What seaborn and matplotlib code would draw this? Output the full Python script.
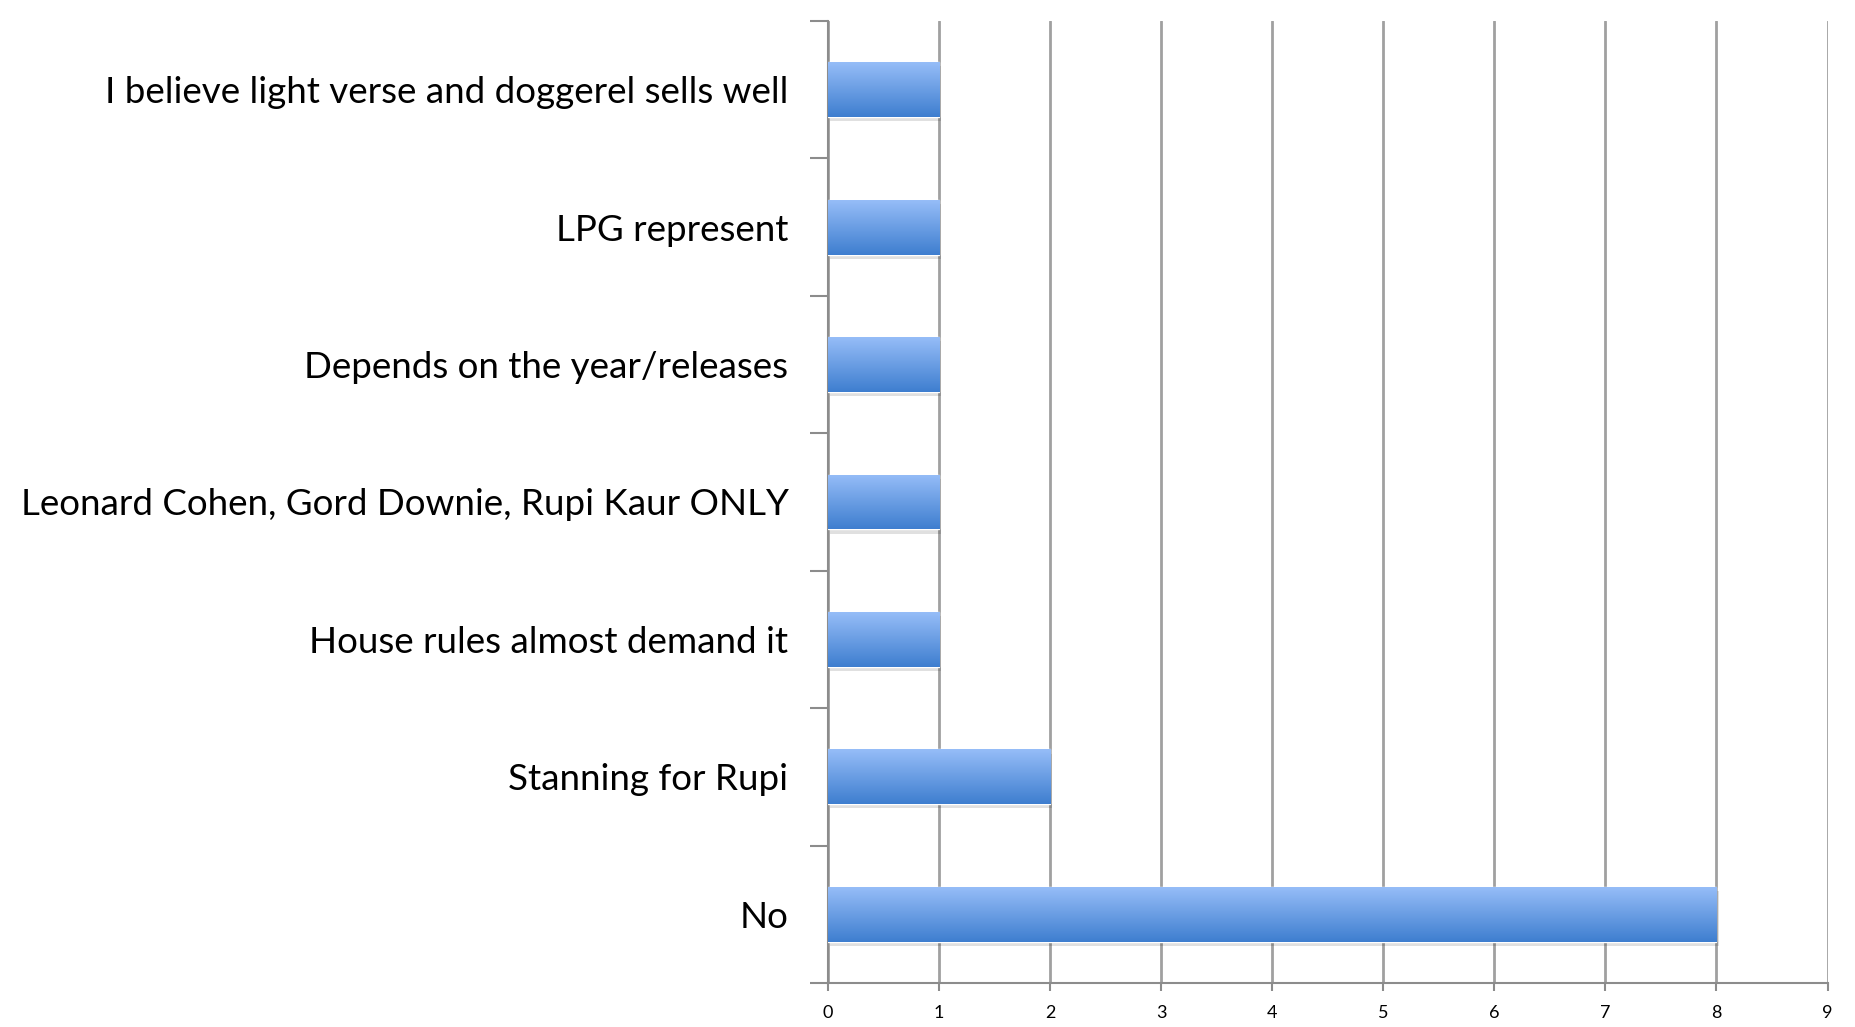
import numpy as np
import matplotlib
matplotlib.use("Agg")
import matplotlib.pyplot as plt
import seaborn as sns
import pandas as pd
from matplotlib.ticker import FixedLocator

answers = [
    "I believe light verse and doggerel sells well",
    "LPG represent",
    "Depends on the year/releases",
    "Leonard Cohen, Gord Downie, Rupi Kaur ONLY",
    "House rules almost demand it",
    "Stanning for Rupi",
    "No",
]
counts = [1, 1, 1, 1, 1, 2, 8]
x_ticks = list(range(0, 10))

df = pd.DataFrame({"answer": answers, "count": counts})

sns.set_style("white")
plt.rcParams["font.family"] = ["Lato", "DejaVu Sans"]

fig = plt.figure(figsize=(18.55, 10.27), dpi=100)
ax = fig.add_axes([0.4464, 0.0428, 0.5388, 0.9368])

sns.barplot(data=df, x="count", y="answer", orient="h", width=0.4,
            color="#5b90dc", ax=ax, zorder=3)

# gradient fill on each bar (light top, darker bottom) + soft shadow
grad = np.linspace(0, 1, 256).reshape(-1, 1)
cmap = matplotlib.colors.LinearSegmentedColormap.from_list(
    "bar", ["#96bdf8", "#3e7ecf"])
for p in list(ax.patches):
    x0, y0 = p.get_x(), p.get_y()
    w, h = p.get_width(), p.get_height()
    sh = matplotlib.patches.Rectangle((x0 + 0.02, y0 + 0.03), w, h,
                                      facecolor="#000000", alpha=0.12,
                                      edgecolor="none", zorder=2)
    ax.add_patch(sh)
    im = ax.imshow(grad, cmap=cmap, aspect="auto",
                   extent=(x0, x0 + w, y0 + h, y0), zorder=4)
    im.set_clip_path(p)

ax.set_xlim(0, 9)
ax.set_ylim(len(answers) - 0.5, -0.5)
ax.set_xticks(x_ticks)
ax.set_xticklabels([str(t) for t in x_ticks], fontsize=13)
ax.set_yticks(range(len(answers)))
ax.set_yticklabels(answers, fontsize=26.5)
ax.yaxis.set_minor_locator(FixedLocator(np.arange(-0.5, len(answers), 1)))
ax.tick_params(axis="y", which="major", length=0, pad=28.5, labelcolor="black")
ax.tick_params(axis="y", which="minor", length=13, width=1.5, color="#8c8c8c",
               left=True)
ax.tick_params(axis="x", length=6, width=1.5, color="#8c8c8c", bottom=True,
               pad=10, labelcolor="black")
ax.set_xlabel("")
ax.set_ylabel("")

ax.xaxis.grid(True, color="#a0a0a0", linewidth=2)
ax.set_axisbelow(True)
for s in ["top", "right"]:
    ax.spines[s].set_visible(False)
for s in ["left", "bottom"]:
    ax.spines[s].set_color("#8c8c8c")
    ax.spines[s].set_linewidth(1.5)

fig.savefig("out.png", dpi=100)
